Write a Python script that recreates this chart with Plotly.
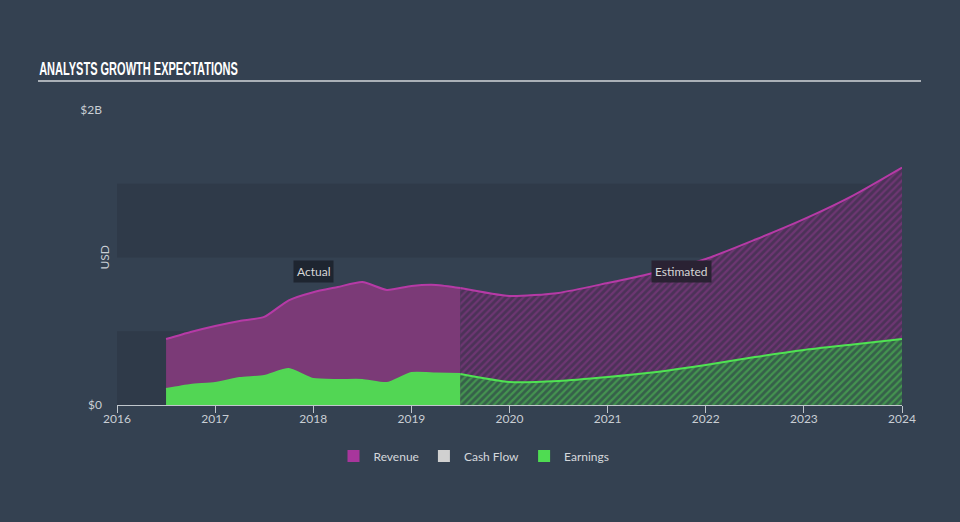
import plotly.graph_objects as go

# ---- data (USD) ----
act_years = [2016.5, 2016.75, 2017.0, 2017.25, 2017.5, 2017.75, 2018.0, 2018.25, 2018.5, 2018.75, 2019.0, 2019.25, 2019.5]
act_revenue = [0.447e9, 0.495e9, 0.536e9, 0.57e9, 0.597e9, 0.71e9, 0.765e9, 0.80e9, 0.834e9, 0.78e9, 0.807e9, 0.814e9, 0.793e9]
act_earnings = [0.108e9, 0.136e9, 0.149e9, 0.183e9, 0.197e9, 0.244e9, 0.176e9, 0.17e9, 0.17e9, 0.149e9, 0.217e9, 0.214e9, 0.21e9]

est_years = [2019.5, 2020.0, 2020.5, 2021.0, 2021.5, 2022.0, 2022.5, 2023.0, 2023.5, 2024.0]
est_revenue = [0.793e9, 0.739e9, 0.76e9, 0.827e9, 0.90e9, 0.99e9, 1.12e9, 1.26e9, 1.42e9, 1.61e9]
est_earnings = [0.21e9, 0.156e9, 0.163e9, 0.19e9, 0.224e9, 0.271e9, 0.325e9, 0.373e9, 0.41e9, 0.447e9]

x_ticks = [2016, 2017, 2018, 2019, 2020, 2021, 2022, 2023, 2024]
y_tickvals = [0, 2e9]
y_ticktext = ["$0", "$2B"]
bands = [(0, 0.5e9), (1.0e9, 1.5e9)]
legend_names = ["Revenue", "Cash Flow", "Earnings"]
legend_colors = ["#a8369c", "#d0d0d0", "#4fdc52"]

BG = "#344151"
BAND = "#2f3a49"
REV_LINE = "#b63aa6"
REV_FILL = "#7b3a77"
EARN_LINE = "#4fe352"
EARN_FILL = "#52d654"
TXT = "#c9ced4"
FONT = "Lato, Open Sans, sans-serif"

fig = go.Figure()

spline = dict(shape="spline", smoothing=0.6)

fig.add_trace(go.Scatter(
    x=act_years, y=act_revenue, mode="lines", fill="tozeroy",
    fillcolor=REV_FILL, line=dict(color=REV_LINE, width=2, **spline),
    showlegend=False, hoverinfo="skip"))
fig.add_trace(go.Scatter(
    x=est_years, y=est_revenue, mode="lines", fill="tozeroy",
    fillcolor="#4c3258",
    fillpattern=dict(shape="/", fgcolor="#8e3a8b", bgcolor="#4c3258", size=5, solidity=0.45),
    line=dict(color=REV_LINE, width=2, **spline),
    showlegend=False, hoverinfo="skip"))
fig.add_trace(go.Scatter(
    x=act_years, y=act_earnings, mode="lines", fill="tozeroy",
    fillcolor=EARN_FILL, line=dict(color=EARN_FILL, width=2, **spline),
    showlegend=False, hoverinfo="skip"))
fig.add_trace(go.Scatter(
    x=est_years, y=est_earnings, mode="lines", fill="tozeroy",
    fillcolor="#36604a",
    fillpattern=dict(shape="/", fgcolor="#52c655", bgcolor="#36604a", size=5, solidity=0.45),
    line=dict(color=EARN_LINE, width=2, **spline),
    showlegend=False, hoverinfo="skip"))

for name, col in zip(legend_names, legend_colors):
    fig.add_trace(go.Scatter(
        x=[None], y=[None], mode="markers", name=name,
        marker=dict(symbol="square", size=14, color=col)))

shapes = []
for lo, hi in bands:
    shapes.append(dict(type="rect", xref="paper", yref="y", x0=0, x1=1, y0=lo, y1=hi,
                       fillcolor=BAND, line=dict(width=0), layer="below"))
# title underline
shapes.append(dict(type="line", xref="paper", yref="paper",
                   x0=(38 - 117) / 785, x1=(921 - 117) / 785,
                   y0=(405 - 81) / 295, y1=(405 - 81) / 295,
                   line=dict(color="#aab0b7", width=2)))

annotations = [
    dict(text="<b>ANALYSTS GROWTH EXPECTATIONS</b>", xref="paper", yref="paper",
         x=(37 - 117) / 785, y=(405 - 68) / 295, xanchor="left", yanchor="middle",
         showarrow=False, font=dict(family="Liberation Sans, Arial, sans-serif", size=19, color="#ffffff")),
    dict(text="USD", xref="paper", yref="y", x=(104 - 117) / 785, y=1e9,
         textangle=-90, showarrow=False, xanchor="center", yanchor="middle",
         font=dict(family=FONT, size=12, color=TXT)),
    dict(text="Actual", x=2018.0, y=0.908e9, xref="x", yref="y", showarrow=False,
         bgcolor="#1e2530", borderpad=3, font=dict(family=FONT, size=12, color="#d6d6d6")),
    dict(text="Estimated", x=2021.75, y=0.908e9, xref="x", yref="y", showarrow=False,
         bgcolor="#2a2233", borderpad=3, font=dict(family=FONT, size=12, color="#d6d6d6")),
]

fig.update_layout(
    width=960, height=522,
    paper_bgcolor=BG, plot_bgcolor=BG,
    margin=dict(l=117, r=58, t=110, b=117),
    font=dict(family=FONT, color=TXT, size=12),
    shapes=shapes, annotations=annotations,
    legend=dict(orientation="h", x=(474 - 117) / 785, xanchor="center",
                y=(405 - 456) / 295, yanchor="middle",
                font=dict(family=FONT, size=12, color="#d4d8dc"),
                bgcolor="rgba(0,0,0,0)", itemsizing="constant"),
    hovermode=False,
)
fig.update_xaxes(range=[2016, 2024], tickvals=x_ticks, ticktext=[str(t) for t in x_ticks],
                 showgrid=False, zeroline=False, showline=True, linecolor="#c0c6cc", linewidth=1,
                 ticks="outside", ticklen=7, tickcolor="#c0c6cc", ticklabelstandoff=-4,
                 tickfont=dict(family=FONT, size=12, color=TXT), fixedrange=True)
fig.update_yaxes(range=[0, 2e9], tickvals=y_tickvals, ticktext=y_ticktext,
                 showgrid=False, zeroline=False, showline=False,
                 ticks="", ticklabelstandoff=14,
                 tickfont=dict(family=FONT, size=12, color=TXT), fixedrange=True)

post = """
document.body.style.margin='0';
document.body.style.background='%s';
(function(){
  var els = document.querySelectorAll('text.annotation-text');
  els.forEach(function(t){
    if (t.textContent.indexOf('ANALYSTS') === 0) {
      var bb = t.getBBox();
      var x0 = bb.x;
      var s = 199 / bb.width;
      t.setAttribute('transform', 'translate(' + x0 + ',0) scale(' + s + ',1) translate(' + (-x0) + ',0)');
    }
  });
})();
""" % BG

fig.write_html("out.html", config={"displayModeBar": False}, post_script=post)
